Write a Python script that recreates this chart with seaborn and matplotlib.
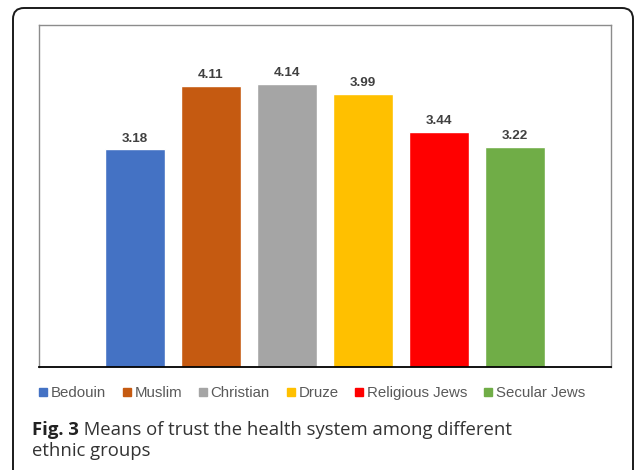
import matplotlib
matplotlib.use("Agg")
import matplotlib.pyplot as plt
from matplotlib.patches import FancyBboxPatch
from matplotlib.lines import Line2D
import seaborn as sns
import pandas as pd

# Mean trust in the health system per group
groups = ["Bedouin", "Muslim", "Christian", "Druze", "Religious Jews", "Secular Jews"]
means = [3.18, 4.11, 4.14, 3.99, 3.44, 3.22]
colors = ["#4472C4", "#C55A11", "#A5A5A5", "#FFC000", "#FF0000", "#70AD47"]

caption_bold = "Fig. 3"
caption_line1 = " Means of trust the health system among different"
caption_line2 = "ethnic groups"

sns.set_theme(style="white")
plt.rcParams["font.family"] = ["Liberation Sans", "DejaVu Sans"]

W, H = 634, 470
fig = plt.figure(figsize=(W / 100, H / 100), dpi=100)
fig.patch.set_facecolor("white")

# rounded outer frame, open at the bottom edge
frame = FancyBboxPatch((13 / 100, -0.3), (633 - 13) / 100, (H - 8) / 100 + 0.3,
                       boxstyle="round,pad=0,rounding_size=0.11",
                       transform=fig.dpi_scale_trans, fill=False,
                       edgecolor="#1a1a1a", linewidth=1.4, clip_on=False)
fig.patches.append(frame)

ax = fig.add_axes([39 / W, 1 - 367 / H, (611 - 39) / W, (367 - 25) / H])
df = pd.DataFrame({"group": groups, "mean": means})
sns.barplot(data=df, x="group", y="mean", hue="group", palette=colors,
            width=0.79, legend=False, ax=ax, saturation=1)

ax.set_ylim(0, 5.0)
ax.set_xlim(-1.263, len(groups) - 1 + 1.263)
ax.set_xticks([])
ax.set_yticks([])
ax.set_xlabel("")
ax.set_ylabel("")
for side in ["top", "left", "right"]:
    ax.spines[side].set_color("#8c8c8c")
    ax.spines[side].set_linewidth(1.0)
ax.spines["bottom"].set_color("#000000")
ax.spines["bottom"].set_linewidth(1.3)

for cont in ax.containers:
    ax.bar_label(cont, fmt="%.2f", padding=3.5, fontsize=9.7,
                 fontweight="bold", color="#404040")

handles = [Line2D([0], [0], marker="s", linestyle="none", markersize=6,
                  markerfacecolor=c, markeredgecolor=c) for c in colors]
fig.legend(handles, groups, loc="center", bbox_to_anchor=(312 / W, 1 - 393 / H),
           ncol=6, frameon=False, fontsize=10.8, handlelength=0.55,
           handletextpad=0.25, columnspacing=1.1, labelcolor="#595959")

# caption with bold figure number
cap_font = ["Open Sans", "DejaVu Sans"]
cap_size = 13.3
x0 = 32 / W
t1 = fig.text(x0, 1 - 435 / H, caption_bold, fontsize=cap_size, fontweight="bold",
              family=cap_font, color="#222222", va="baseline")
fig.canvas.draw()
bb = t1.get_window_extent(renderer=fig.canvas.get_renderer())
fig.text(bb.x1 / W, 1 - 435 / H, caption_line1, fontsize=cap_size,
         family=cap_font, color="#333333", va="baseline")
fig.text(x0, 1 - 456 / H, caption_line2, fontsize=cap_size,
         family=cap_font, color="#333333", va="baseline")

fig.savefig("out.png", dpi=100, facecolor="white")
